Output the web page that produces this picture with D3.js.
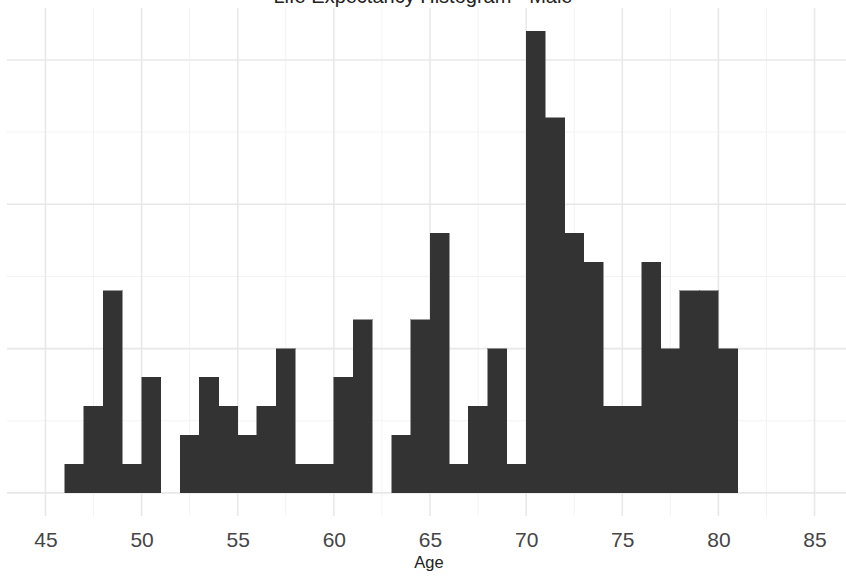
<!DOCTYPE html>
<html>
<head>
<meta charset="utf-8">
<script src="https://cdn.jsdelivr.net/npm/d3@7"></script>
<style>
  html, body { margin: 0; padding: 0; background: #fff; }
  svg { display: block; }
</style>
</head>
<body>
<svg id="chart" width="846" height="578"></svg>
<script>
// Histogram bins (left edge of each 1-year bin) and counts
const binStarts = [46, 47, 48, 49, 50, 51, 52, 53, 54, 55, 56, 57, 58, 59, 60, 61, 62,
                   63, 64, 65, 66, 67, 68, 69, 70, 71, 72, 73, 74, 75, 76, 77, 78, 79, 80];
const counts    = [1, 3, 7, 1, 4, 0, 2, 4, 3, 2, 3, 5, 1, 1, 4, 6, 0,
                   2, 6, 9, 1, 3, 5, 1, 16, 13, 9, 8, 3, 3, 8, 5, 7, 7, 5];
const binWidth = 1;

const xTicks = [45, 50, 55, 60, 65, 70, 75, 80, 85];
const xMinor = [47.5, 52.5, 57.5, 62.5, 67.5, 72.5, 77.5, 82.5];
const yMajor = [0, 5, 10, 15];
const yMinor = [2.5, 7.5, 12.5];

const chartTitle = "Life Expectancy Histogram - Male";
const xTitle = "Age";

const svg = d3.select("#chart");

const panel = { left: 7, right: 853, top: 8, bottom: 516 };

const x = d3.scaleLinear().domain([43, 87]).range([panel.left, panel.right]);
const y = d3.scaleLinear().domain([-0.8, 16.8]).range([panel.bottom, panel.top]);

// Grid
const grid = svg.append("g");
grid.selectAll("line.ymin").data(yMinor).join("line")
  .attr("x1", panel.left).attr("x2", panel.right)
  .attr("y1", d => y(d)).attr("y2", d => y(d))
  .attr("stroke", "#f3f3f3").attr("stroke-width", 1);
grid.selectAll("line.xmin").data(xMinor).join("line")
  .attr("y1", panel.top).attr("y2", panel.bottom)
  .attr("x1", d => x(d)).attr("x2", d => x(d))
  .attr("stroke", "#f3f3f3").attr("stroke-width", 1);
grid.selectAll("line.ymaj").data(yMajor).join("line")
  .attr("x1", panel.left).attr("x2", panel.right)
  .attr("y1", d => y(d)).attr("y2", d => y(d))
  .attr("stroke", "#e8e8e8").attr("stroke-width", 1.6);
grid.selectAll("line.xmaj").data(xTicks).join("line")
  .attr("y1", panel.top).attr("y2", panel.bottom)
  .attr("x1", d => x(d)).attr("x2", d => x(d))
  .attr("stroke", "#e8e8e8").attr("stroke-width", 1.6);

// Bars
const bins = binStarts.map((b, i) => ({ x0: b, x1: b + binWidth, n: counts[i] }));
svg.append("g").selectAll("rect").data(bins.filter(d => d.n > 0)).join("rect")
  .attr("x", d => x(d.x0))
  .attr("width", d => x(d.x1) - x(d.x0))
  .attr("y", d => y(d.n))
  .attr("height", d => y(0) - y(d.n))
  .attr("fill", "#333333")
  .attr("stroke", "#333333")
  .attr("stroke-width", 0.5)
  .attr("shape-rendering", "crispEdges");

// X axis labels
const xAxis = d3.axisBottom(x).tickValues(xTicks).tickSize(0).tickPadding(0);
const gx = svg.append("g").attr("transform", `translate(0,${panel.bottom})`).call(xAxis);
gx.select(".domain").remove();
gx.selectAll("text")
  .attr("dy", null)
  .attr("y", 31)
  .attr("font-family", "Liberation Sans, Arial, sans-serif")
  .attr("font-size", 21)
  .attr("fill", "#454545");

// Axis title
svg.append("text")
  .attr("x", x(65) - 1).attr("y", 568)
  .attr("text-anchor", "middle")
  .attr("font-family", "Liberation Sans, Arial, sans-serif")
  .attr("font-size", 16.5)
  .attr("fill", "#222")
  .text(xTitle);

// Chart title
svg.append("text")
  .attr("x", 423).attr("y", 3)
  .attr("text-anchor", "middle")
  .attr("font-family", "Liberation Sans, Arial, sans-serif")
  .attr("font-size", 20)
  .attr("fill", "#222")
  .text(chartTitle);
</script>
</body>
</html>
